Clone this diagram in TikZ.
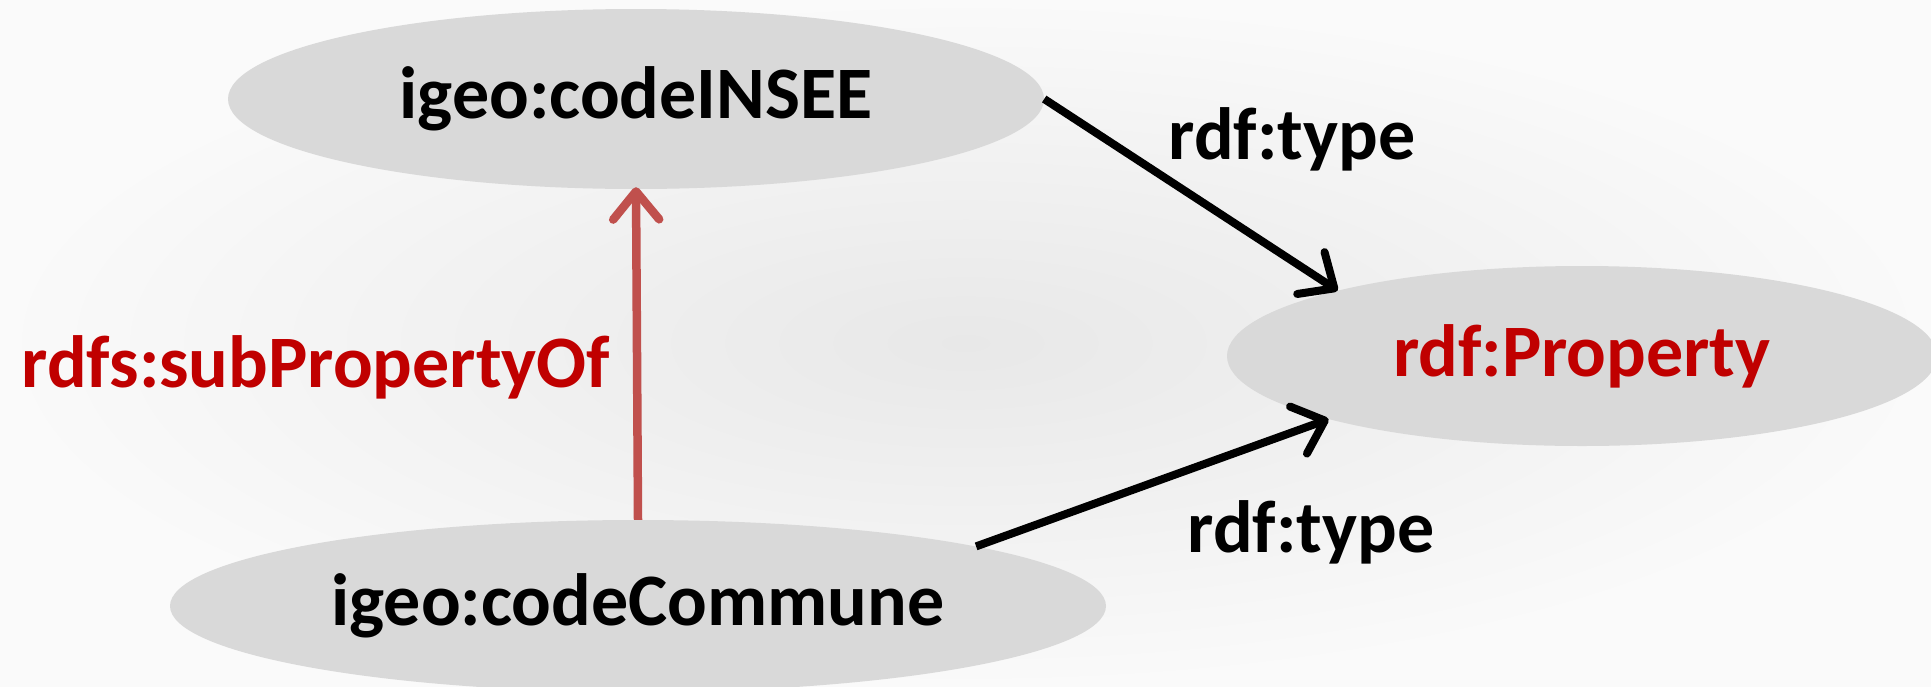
\documentclass[tikz,border=0pt]{standalone}
\usepackage{fontspec}
\setmainfont{Carlito}
\usetikzlibrary{shapes.geometric,arrows.meta}
\definecolor{ellfill}{HTML}{D9D9D9}
\definecolor{redtext}{HTML}{C00000}
\definecolor{redarrow}{HTML}{C0504D}
\tikzset{
  ell/.style={ellipse, fill=ellfill, draw=none, inner sep=0pt, font=\fontsize{74}{80}\selectfont\bfseries},
  lbl/.style={font=\fontsize{74}{80}\selectfont\bfseries, inner sep=0pt},
  typearrow/.style={line width=8pt, black, -{Straight Barb[length=28pt,width=50pt,round]}},
  subarrow/.style={line width=8.5pt, redarrow, -{Straight Barb[length=28pt,width=46pt,round]}}
}
\begin{document}
\begin{tikzpicture}[x=1pt,y=-1pt]
\useasboundingbox (0,0) rectangle (1931,686);
\shade[inner color=black!9, outer color=black!2] (0,0) rectangle (1931,686);
\node[ell, minimum width=816pt, minimum height=180pt] (insee) at (636,99) {igeo:codeINSEE};
\node[ell, minimum width=710pt, minimum height=180pt, text=redtext] (prop) at (1582,356) {rdf:Property};
\node[ell, minimum width=936pt, minimum height=172pt] (commune) at (638,606) {igeo:codeCommune};
\node[lbl] (t1) at (1292,139) {rdf:type};
\node[lbl] (t2) at (1311,532) {rdf:type};
\node[lbl, text=redtext] (sub) at (316,367) {rdfs:subPropertyOf};
\draw[typearrow] (insee.east) -- (prop.165);
\draw[typearrow] (commune.10) -- (prop.194);
\draw[subarrow] (commune.north) -- ([yshift=2pt]insee.south);
\end{tikzpicture}
\end{document}
